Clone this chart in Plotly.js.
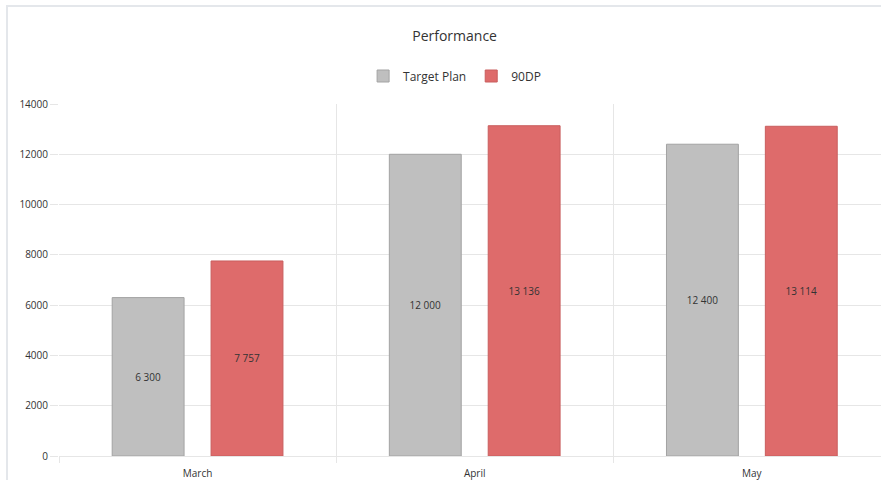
<!DOCTYPE html>
<html>
<head>
<meta charset="utf-8">
<script src="https://cdn.plot.ly/plotly-3.0.1.min.js"></script>
<style>
html,body{margin:0;padding:0;background:#fff;overflow:hidden;}
#chart{width:881px;height:480px;}
#frame{position:absolute;left:6px;top:5px;width:1000px;height:1000px;border-top:2px solid #e4e7eb;border-left:2px solid #e4e7eb;pointer-events:none;}
</style>
</head>
<body>
<div id="chart"></div>
<div id="frame"></div>
<script>
var months = ["March", "April", "May"];
var targetPlan = [6300, 12000, 12400];
var dp90 = [7757, 13136, 13114];
var yTicks = [0, 2000, 4000, 6000, 8000, 10000, 12000, 14000];

var common = {
  type: 'bar',
  x: months,
  texttemplate: '%{y:,}',
  textposition: 'inside',
  insidetextanchor: 'middle',
  textangle: 0,
  textfont: {size: 10, color: '#333', family: 'Open Sans, sans-serif'},
  hoverinfo: 'none'
};

var traces = [
  Object.assign({}, common, {
    name: 'Target Plan', y: targetPlan,
    marker: {color: '#bfbfbf', line: {color: '#a3a3a3', width: 1}}
  }),
  Object.assign({}, common, {
    name: '90DP', y: dp90,
    marker: {color: '#de6b6b', line: {color: '#c95e5e', width: 1}}
  })
];

var layout = {
  width: 881, height: 480,
  margin: {l: 59, r: 0, t: 104, b: 24},
  paper_bgcolor: '#fff', plot_bgcolor: '#fff',
  separators: '. ',
  font: {family: 'Open Sans, sans-serif', color: '#333'},
  title: {text: 'Performance', x: 0.516, xref: 'container', xanchor: 'center', y: 1 - 36/480, yref: 'container', yanchor: 'middle', font: {size: 14, color: '#333'}},
  showlegend: true,
  legend: {orientation: 'h', x: 0.516, xref: 'container', xanchor: 'center', y: 1 - 76/480, yref: 'container', yanchor: 'middle', font: {size: 12, color: '#333'}, itemwidth: 30, traceorder: 'normal'},
  barmode: 'group',
  bargap: 0.2865,
  bargroupgap: 0.273,
  xaxis: {
    type: 'category',
    range: [-0.5, 2.466],
    tickson: 'boundaries',
    ticks: 'outside', ticklen: 6, tickcolor: '#e6e6e6',
    ticklabelstandoff: 10,
    showgrid: true, gridcolor: '#e6e6e6', gridwidth: 1,
    showline: false, zeroline: false,
    tickfont: {size: 10, color: '#333'}
  },
  yaxis: {
    range: [0, 14000],
    tickvals: yTicks,
    tickformat: 'd',
    ticks: 'outside', ticklen: 8, tickcolor: '#e6e6e6',
    showgrid: true, gridcolor: '#e6e6e6', gridwidth: 1,
    zeroline: true, zerolinecolor: '#e6e6e6', zerolinewidth: 1,
    showline: false,
    tickfont: {size: 10, color: '#333'}
  }
};

Plotly.newPlot('chart', traces, layout, {displayModeBar: false, staticPlot: true});
</script>
</body>
</html>
